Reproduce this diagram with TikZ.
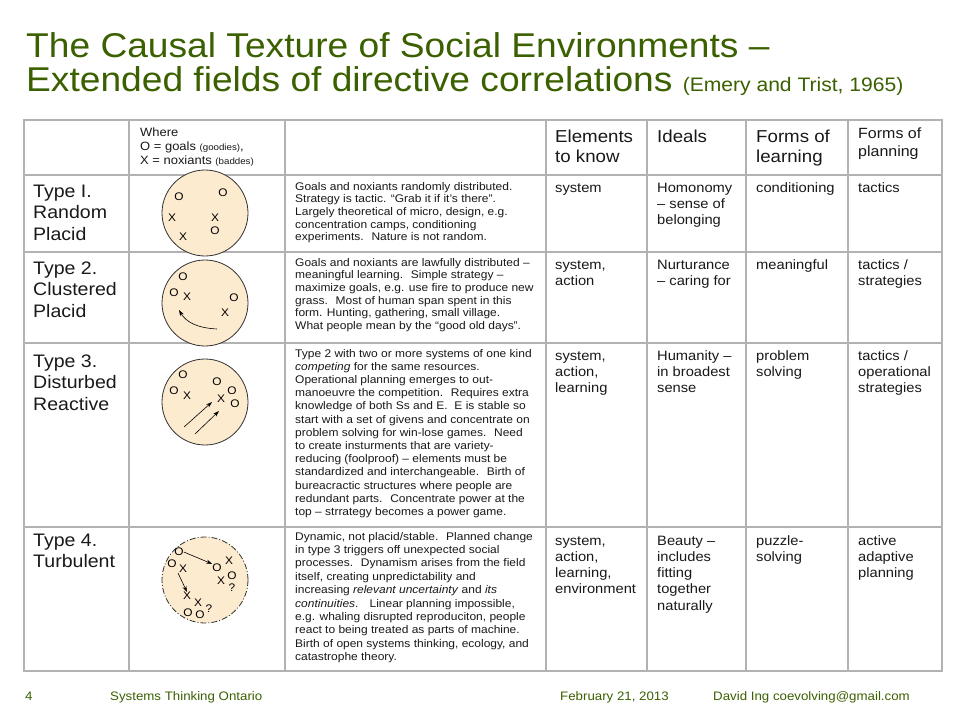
\documentclass[tikz,border=0pt]{standalone}
\usepackage{fontspec}
\setmainfont{Liberation Sans}[FakeStretch=1.08]
\usetikzlibrary{arrows.meta}
\definecolor{ttl}{RGB}{59,96,0}
\definecolor{gridc}{RGB}{178,178,178}
\definecolor{peach}{RGB}{253,235,208}
\definecolor{txt}{RGB}{25,25,25}
\newcommand{\fsz}[2]{\fontsize{#1}{#2}\selectfont}
\begin{document}
\begin{tikzpicture}[x=1pt,y=-1pt,
  lbl/.style={anchor=base west, inner sep=0pt, align=left, text=txt},
  typelbl/.style={lbl, font=\fsz{18.1}{21.5}},
  desc/.style={lbl, font=\fsz{11.1}{#1}},
  cell/.style={lbl, font=\fsz{13.6}{16.3}},
  hdr/.style={lbl, font=\fsz{17.3}{20}},
  mk/.style={inner sep=0pt, font=\fsz{11}{11}, text=black},
  field/.style={circle, draw=black!80, line width=0.8pt, fill=peach, minimum size=86pt, inner sep=0pt},
  arr/.style={-{Stealth[length=6pt,width=4pt]}, line width=0.6pt},
  gridline/.style={draw=gridc, line width=1.2pt},
  foot/.style={anchor=base west, inner sep=0pt, text=ttl, font=\fsz{12.3}{14}}
]
\useasboundingbox (0,0) rectangle (960,720);
\fill[white] (0,0) rectangle (960,720);

% title (base anchor = baseline of the last line)
\node[anchor=base west, inner sep=0pt, align=left, text=ttl, font=\fsz{34.4}{34}] (title) at (26,91)
  {The Causal Texture of Social Environments –\\Extended fields of directive correlations {\fsz{19.5}{20}(Emery and Trist, 1965)}};

% grid
\draw[gridline] (24,120) rectangle (942,671);
\foreach \xx in {129,285,546,647,746,848} \draw[gridline] (\xx,120) -- (\xx,671);
\foreach \yy in {175,252,343,527} \draw[gridline] (24,\yy) -- (942,\yy);

% header
\node[lbl, font=\fsz{12}{14}] (where) at (140,164)
  {Where\\O = goals {\fsz{9}{14}(goodies)},\\X = noxiants {\fsz{9}{14}(baddes)}};
\node[hdr] (helem) at (555,162) {Elements\\to know};
\node[hdr] (hideal) at (657,142) {Ideals};
\node[hdr] (hlearn) at (756,162) {Forms of\\learning};
\node[lbl, font=\fsz{14.8}{18}] (hplan) at (858,156) {Forms of\\planning};

% type labels
\node[typelbl] (t1) at (33,240) {Type I.\\Random\\Placid};
\node[typelbl] (t2) at (33,317) {Type 2.\\Clustered\\Placid};
\node[typelbl] (t3) at (33,410) {Type 3.\\Disturbed\\Reactive};
\node[typelbl] (t4) at (33,567.5) {Type 4.\\Turbulent};

% descriptions
\node[desc=12.7] (d1) at (295,240.8)
  {Goals and noxiants randomly distributed.\\
   Strategy is tactic. “Grab it if it's there”.\\
   Largely theoretical of micro, design, e.g.\\
   concentration camps, conditioning\\
   experiments.~ Nature is not random.};
\node[desc=12.7] (d2) at (295,329.5)
  {Goals and noxiants are lawfully distributed –\\
   meaningful learning.~ Simple strategy –\\
   maximize goals, e.g. use fire to produce new\\
   grass.~ Most of human span spent in this\\
   form. Hunting, gathering, small village.\\
   What people mean by the “good old days”.};
\node[desc=13.2] (d3) at (295,515.4)
  {Type 2 with two or more systems of one kind\\
   \textit{competing} for the same resources.\\
   Operational planning emerges to out-\\
   manoeuvre the competition.~ Requires extra\\
   knowledge of both Ss and E.~ E is stable so\\
   start with a set of givens and concentrate on\\
   problem solving for win-lose games.~ Need\\
   to create insturments that are variety-\\
   reducing (foolproof) – elements must be\\
   standardized and interchangeable.~ Birth of\\
   bureacractic structures where people are\\
   redundant parts.~ Concentrate power at the\\
   top – strrategy becomes a power game.};
\node[desc=13.4] (d4) at (295,660.6)
  {Dynamic, not placid/stable.~ Planned change\\
   in type 3 triggers off unexpected social\\
   processes.~ Dynamism arises from the field\\
   itself, creating unpredictability and\\
   increasing \textit{relevant uncertainty} and \textit{its}\\
   \textit{continuities}.~~ Linear planning impossible,\\
   e.g. whaling disrupted reproduciton, people\\
   react to being treated as parts of machine.\\
   Birth of open systems thinking, ecology, and\\
   catastrophe theory.};

% elements
\node[cell] (e1) at (555,192) {system};
\node[cell] (e2) at (555,285.3) {system,\\action};
\node[cell] (e3) at (555,392.6) {system,\\action,\\learning};
\node[cell] (e4) at (555,593.9) {system,\\action,\\learning,\\environment};
% ideals
\node[cell] (i1) at (657,224.6) {Homonomy\\– sense of\\belonging};
\node[cell] (i2) at (657,285.3) {Nurturance\\– caring for};
\node[cell] (i3) at (657,392.6) {Humanity –\\in broadest\\sense};
\node[cell] (i4) at (657,610.2) {Beauty –\\includes\\fitting\\together\\naturally};
% learning
\node[cell] (l1) at (756,192) {conditioning};
\node[cell] (l2) at (756,269) {meaningful};
\node[cell] (l3) at (756,376.3) {problem\\solving};
\node[cell] (l4) at (756,561.3) {puzzle-\\solving};
% planning
\node[cell] (p1) at (858,192) {tactics};
\node[cell] (p2) at (858,285.3) {tactics /\\strategies};
\node[cell] (p3) at (858,392.6) {tactics /\\operational\\strategies};
\node[cell] (p4) at (858,577.6) {active\\adaptive\\planning};

% field 1
\node[field] (c1) at (205,213) {};
\node[mk] (c1o1) at (179,197) {O};
\node[mk] (c1o2) at (223,193) {O};
\node[mk] (c1x1) at (172,218) {X};
\node[mk] (c1x2) at (215,218) {X};
\node[mk] (c1x3) at (183,237) {X};
\node[mk] (c1o3) at (215,231) {O};

% field 2
\node[field] (c2) at (205,303) {};
\node[mk] (c2o1) at (183,277) {O};
\node[mk] (c2o2) at (174,293) {O};
\node[mk] (c2x1) at (187,297) {X};
\node[mk] (c2o3) at (234,298) {O};
\node[mk] (c2x2) at (225,313) {X};
\coordinate (c2a) at (217,329);
\coordinate (c2b) at (179,310);
\draw[arr] (c2a) .. controls (197,328) and (186,322) .. (c2b);

% field 3
\node[field] (c3) at (205,402) {};
\node[mk] (c3o1) at (183,375) {O};
\node[mk] (c3o2) at (174,391) {O};
\node[mk] (c3x1) at (187,396) {X};
\node[mk] (c3o3) at (217,382) {O};
\node[mk] (c3x2) at (221,399) {X};
\node[mk] (c3o4) at (232,391) {O};
\node[mk] (c3o5) at (235,404) {O};
\coordinate (c3a1) at (184,427);
\coordinate (c3b1) at (212,402);
\coordinate (c3a2) at (195,434);
\coordinate (c3b2) at (219,411);
\draw[arr] (c3a1) -- (c3b1);
\draw[arr] (c3a2) -- (c3b2);

% field 4
\node[field, dash pattern=on 6pt off 2pt on 1pt off 2pt] (c4) at (205,580) {};
\node[mk] (c4o1) at (179,552) {O};
\node[mk] (c4o2) at (172,564) {O};
\node[mk] (c4x1) at (183,569) {X};
\node[mk] (c4o3) at (217,568) {O};
\node[mk] (c4x2) at (229,561) {X};
\node[mk] (c4x3) at (221,581) {X};
\node[mk] (c4o4) at (232,576) {O};
\node[mk] (c4q1) at (232,588) {?};
\node[mk] (c4x4) at (187,596) {X};
\node[mk] (c4x5) at (198,603) {X};
\node[mk] (c4o5) at (188,613) {O};
\node[mk] (c4o6) at (200,615) {O};
\node[mk] (c4q2) at (209,609) {?};
\draw[arr] (c4o1.east) -- (c4o3.north west);
\coordinate (c4a) at (178,573);
\draw[arr] (c4a) -- (c4x4.north);

% footer
\node[foot] (f1) at (25,700) {4};
\node[foot] (f2) at (110,700) {Systems Thinking Ontario};
\node[foot] (f3) at (560,700) {February 21, 2013};
\node[foot] (f4) at (713,700) {David Ing coevolving@gmail.com};
\end{tikzpicture}
\end{document}
